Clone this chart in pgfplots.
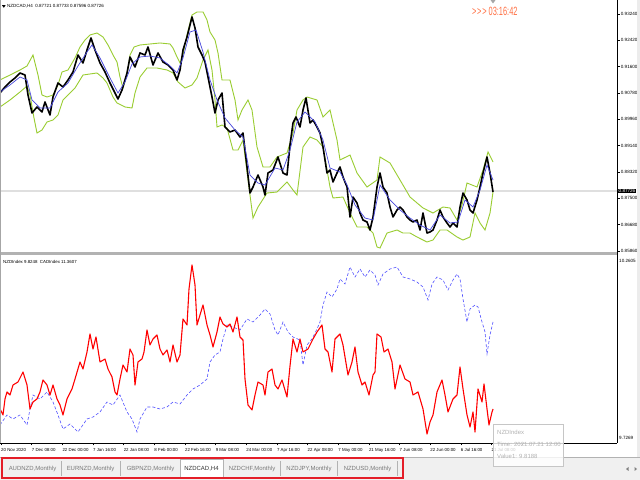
\documentclass[border=0pt]{standalone}
\usepackage{pgfplots}
\pgfplotsset{compat=1.18}
\usepackage{fontspec}
\setmainfont{Liberation Sans}
\definecolor{band}{RGB}{154,205,50}
\definecolor{ma}{RGB}{70,70,220}
\definecolor{cadblue}{RGB}{80,80,255}
\definecolor{timer}{RGB}{255,112,67}
\definecolor{tabbg}{RGB}{240,240,240}
\definecolor{tabtxt}{RGB}{120,120,120}
\definecolor{mtred}{RGB}{228,30,40}
\newcommand\sz[1]{\fontsize{#1}{#1}\selectfont}
\begin{document}
\begin{tikzpicture}[x=1bp,y=1bp]
\path[fill=white,use as bounding box] (0,0) rectangle (640,480);
% tab bar background
\fill[tabbg] (0,0) rectangle (640,23);
\draw[gray!60,line width=0.6bp] (0,23) -- (640,23);
% current price line
\draw[gray!25,line width=1.2bp] (0,289) -- (617,289);

%================ top panel =================
\begin{axis}[at={(0bp,480bp)},anchor=north west,scale only axis,
  width=617bp,height=253bp,
  xmin=0,xmax=617,ymin=0.85798,ymax=0.93676,
  axis line style={draw=none},
  xtick=\empty,
  scaled y ticks=false,
  ytick pos=right,yticklabel pos=right,
  ytick={0.93240,0.92420,0.91600,0.90780,0.89960,0.89140,0.88320,0.87500,0.86680,0.85860},
  yticklabels={0.93240,0.92420,0.91600,0.90780,0.89960,0.89140,0.88320,0.87500,0.86680,0.85860},
  tick align=outside,major tick length=2.5bp,
  tick style={black,line width=0.4bp},
  yticklabel style={font=\sz{4.6},anchor=west,inner sep=0pt,xshift=1.2bp},
  clip=true]
% upper band
\addplot[band,line width=0.9bp] coordinates {(0,0.91185)(10,0.91340)(20,0.91496)(27,0.91621)(33,0.91963)(38,0.91340)(42,0.90718)(47,0.90655)(53,0.90718)(58,0.91029)(62,0.91434)(68,0.91496)(75,0.91870)(80,0.92212)(85,0.92430)(90,0.92586)(97,0.92648)(103,0.92524)(108,0.92275)(113,0.91963)(117,0.91745)(120,0.91278)(123,0.90936)(127,0.91340)(130,0.91963)(134,0.92212)(140,0.92275)(150,0.92306)(160,0.92337)(170,0.92306)(173,0.92181)(177,0.91901)(180,0.91714)(183,0.91963)(187,0.92586)(192,0.93209)(197,0.93302)(203,0.93302)(207,0.93053)(210,0.92680)(215,0.92430)(218,0.92026)(222,0.91185)(230,0.91185)(235,0.90562)(238,0.89939)(242,0.90251)(248,0.90562)(252,0.90251)(257,0.89098)(263,0.88476)(270,0.88476)(277,0.88787)(287,0.88912)(293,0.89534)(297,0.90251)(303,0.90562)(307,0.90655)(317,0.90562)(323,0.90033)(330,0.90251)(337,0.89316)(340,0.88694)(350,0.88849)(357,0.88289)(367,0.87853)(377,0.88071)(380,0.88787)(390,0.88600)(400,0.88071)(410,0.87541)(423,0.87199)(433,0.87043)(443,0.87230)(450,0.87199)(457,0.86825)(462,0.87292)(467,0.87977)(477,0.87853)(483,0.88382)(488,0.88943)(493,0.88631)};
% lower band
\addplot[band,line width=0.9bp] coordinates {(0,0.90344)(10,0.90562)(20,0.90811)(27,0.90998)(30,0.90718)(34,0.90001)(37,0.89534)(42,0.89628)(47,0.89877)(53,0.89939)(58,0.90095)(63,0.90562)(68,0.90718)(75,0.90936)(83,0.91340)(90,0.91372)(97,0.91403)(103,0.91247)(107,0.91091)(113,0.90655)(117,0.90469)(125,0.90344)(132,0.90313)(135,0.90780)(140,0.91278)(147,0.91558)(157,0.91558)(167,0.91496)(173,0.91403)(178,0.91123)(185,0.90936)(192,0.91029)(197,0.91247)(203,0.91808)(208,0.92119)(212,0.91496)(215,0.90562)(217,0.89721)(222,0.89783)(227,0.89690)(233,0.89005)(238,0.89005)(243,0.89316)(248,0.88071)(253,0.86887)(258,0.87230)(267,0.87666)(277,0.87697)(287,0.88009)(293,0.87759)(297,0.87604)(303,0.89098)(310,0.89410)(317,0.89316)(323,0.89098)(330,0.87853)(333,0.87510)(343,0.87541)(350,0.87043)(357,0.86607)(367,0.86607)(373,0.86420)(377,0.85984)(380,0.85953)(387,0.86420)(397,0.86514)(403,0.86420)(410,0.86420)(417,0.86296)(427,0.86140)(433,0.86202)(440,0.86514)(447,0.86514)(457,0.86296)(463,0.86202)(470,0.86296)(475,0.87043)(480,0.86732)(485,0.86514)(490,0.87043)(493,0.87697)};
% price
\addplot[black,line width=1.6bp,line join=round] coordinates {(0,0.90780)(5,0.90967)(10,0.91123)(15,0.91247)(20,0.91403)(25,0.91340)(28,0.90718)(32,0.90157)(37,0.90344)(42,0.90188)(45,0.90500)(50,0.90095)(53,0.90655)(58,0.91091)(63,0.90967)(68,0.91185)(73,0.91434)(78,0.91963)(83,0.91714)(87,0.92119)(91,0.92493)(95,0.92119)(100,0.91714)(105,0.91434)(110,0.91091)(115,0.90780)(118,0.90593)(122,0.90873)(127,0.91403)(130,0.91901)(135,0.91590)(140,0.92026)(145,0.91963)(148,0.92212)(153,0.91652)(158,0.92026)(163,0.91745)(168,0.91652)(173,0.91496)(177,0.91185)(180,0.91496)(183,0.92119)(187,0.92524)(192,0.93147)(195,0.92804)(198,0.92212)(202,0.91963)(205,0.91745)(208,0.91278)(212,0.90655)(215,0.90157)(218,0.90562)(222,0.90780)(225,0.89721)(230,0.89566)(235,0.89628)(240,0.89410)(243,0.89534)(247,0.88476)(250,0.87666)(253,0.87853)(258,0.88226)(263,0.87853)(265,0.87604)(268,0.88289)(273,0.88382)(278,0.88787)(283,0.88289)(287,0.88226)(290,0.89161)(293,0.89846)(296,0.90033)(300,0.89721)(303,0.90251)(306,0.90624)(310,0.89846)(313,0.89939)(317,0.89721)(320,0.89534)(323,0.89098)(327,0.88289)(330,0.88382)(333,0.88009)(337,0.88289)(340,0.88476)(343,0.88164)(347,0.87853)(350,0.86919)(353,0.87541)(357,0.87355)(360,0.87043)(363,0.86825)(367,0.86763)(370,0.86514)(373,0.86919)(377,0.87853)(380,0.88289)(383,0.87853)(387,0.87666)(390,0.87230)(393,0.86919)(397,0.87137)(400,0.87230)(403,0.87137)(407,0.86919)(410,0.86825)(413,0.86763)(417,0.86825)(420,0.86514)(423,0.87043)(427,0.86420)(430,0.86452)(433,0.86514)(437,0.86825)(440,0.87137)(443,0.86919)(447,0.86732)(450,0.86607)(453,0.86732)(457,0.86607)(460,0.87230)(463,0.87666)(467,0.87448)(470,0.87137)(473,0.87043)(477,0.87448)(480,0.87853)(483,0.88289)(487,0.88787)(490,0.88289)(493,0.87697)};
% moving average
\addplot[ma,line width=0.7bp] coordinates {(0,0.90811)(10,0.91029)(20,0.91278)(27,0.91185)(32,0.90562)(40,0.90313)(50,0.90313)(58,0.90811)(68,0.91091)(78,0.91621)(87,0.92057)(92,0.92275)(100,0.91870)(110,0.91247)(118,0.90780)(125,0.91123)(132,0.91683)(140,0.91901)(150,0.91932)(160,0.91870)(170,0.91621)(177,0.91403)(183,0.91870)(190,0.92680)(196,0.92742)(203,0.92057)(210,0.91185)(217,0.90562)(225,0.90001)(235,0.89628)(243,0.89410)(250,0.88226)(258,0.87977)(265,0.87915)(275,0.88444)(283,0.88382)(290,0.89005)(297,0.89877)(305,0.90188)(315,0.89877)(323,0.89316)(330,0.88444)(340,0.88320)(347,0.87915)(355,0.87292)(365,0.86887)(373,0.86825)(380,0.87915)(390,0.87448)(400,0.87137)(410,0.86887)(420,0.86669)(430,0.86514)(440,0.86981)(450,0.86732)(458,0.86763)(465,0.87448)(473,0.87230)(480,0.87759)(487,0.88538)(493,0.88071)};
\end{axis}

%================ bottom panel =================
\begin{axis}[at={(0bp,225bp)},anchor=north west,scale only axis,
  width=617bp,height=188bp,
  xmin=0,xmax=617,ymin=9.7240,ymax=10.2634,
  axis line style={draw=none},
  ytick=\empty,
  xtick pos=bottom,
  xtick={1,31.65,62.3,92.95,123.6,154.25,184.9,215.55,246.2,276.85,307.5,338.15,368.8,399.45,430.1,460.75,491.4,522.05},
  xticklabels={20 Nov 2020,7 Dec 08:00,22 Dec 00:00,7 Jan 16:00,22 Jan 08:00,8 Feb 00:00,22 Feb 16:00,9 Mar 08:00,24 Mar 00:00,7 Apr 16:00,22 Apr 08:00,7 May 00:00,21 May 16:00,7 Jun 08:00,22 Jun 00:00,6 Jul 16:00,21 Jul 08:00,{}},
  tick align=outside,major tick length=2.5bp,
  tick style={black,line width=0.4bp},
  xticklabel style={font=\sz{4.4},anchor=north west,inner sep=0pt,yshift=-2.5bp},
  clip=true]
% CADIndex (blue dotted)
\addplot[cadblue,line width=0.6bp,densely dashed] coordinates {(0,9.7757)(7,9.8044)(13,9.7929)(20,9.8044)(27,9.7757)(30,9.8216)(33,9.8617)(40,9.8503)(47,9.8704)(53,9.8417)(58,9.8044)(63,9.7642)(70,9.7785)(78,9.7556)(87,9.7929)(93,9.7986)(100,9.8130)(107,9.8417)(113,9.8331)(120,9.8617)(127,9.8130)(132,9.7929)(137,9.7556)(140,9.7929)(147,9.8273)(153,9.8273)(160,9.8216)(167,9.8273)(173,9.8417)(180,9.8359)(187,9.8617)(193,9.8790)(200,9.8904)(207,9.9076)(210,9.9564)(215,9.9765)(220,9.9851)(223,10.0224)(227,10.0626)(233,10.0568)(240,10.0482)(247,10.0798)(253,10.0712)(260,10.0913)(265,10.1085)(270,10.0941)(275,10.0482)(278,10.0339)(283,10.0712)(288,10.0425)(293,10.0281)(300,10.0195)(303,9.9478)(307,10.0052)(312,10.0224)(317,10.0511)(320,10.0712)(323,10.1200)(327,10.1573)(332,10.1429)(337,10.1659)(340,10.1945)(345,10.1802)(350,10.2290)(355,10.2003)(360,10.2232)(365,10.2003)(370,10.2204)(375,10.2060)(378,10.1773)(383,10.2089)(390,10.2232)(397,10.2290)(403,10.2003)(410,10.1945)(417,10.1859)(423,10.1716)(428,10.1343)(432,10.1802)(437,10.2003)(443,10.1917)(448,10.1630)(453,10.1917)(457,10.2089)(460,10.1945)(463,10.1372)(467,10.0712)(470,10.1085)(475,10.1200)(478,10.1142)(482,10.0712)(485,10.0425)(487,9.9794)(490,10.0339)(493,10.0712)};
% NZDIndex (red)
\addplot[red,line width=1.1bp,line join=round] coordinates {(0,9.8216)(3,9.8044)(5,9.8503)(7,9.8704)(10,9.8617)(13,9.8904)(18,9.8990)(23,9.9277)(27,9.8904)(30,9.8216)(33,9.8417)(37,9.8503)(40,9.8704)(43,9.9048)(47,9.8904)(50,9.8617)(53,9.8904)(57,9.8503)(60,9.8331)(63,9.8044)(67,9.8503)(72,9.8790)(75,9.9076)(80,9.9564)(83,9.9363)(87,9.9851)(90,10.0368)(93,9.9937)(96,10.0281)(100,9.9564)(105,9.9650)(108,9.9363)(112,9.9134)(115,9.8704)(117,9.8617)(120,9.9076)(123,9.9478)(127,9.9277)(130,9.9937)(133,9.9765)(135,9.8904)(138,9.9564)(142,9.9650)(144,9.9851)(147,10.0482)(150,10.0052)(153,10.0224)(157,10.0339)(160,9.9937)(163,9.9765)(167,9.9909)(170,9.9564)(173,10.0052)(177,9.9564)(180,9.9765)(183,10.0798)(187,10.0626)(189,10.1659)(192,10.2347)(195,10.1773)(197,10.0626)(200,10.0913)(203,10.1200)(207,10.0626)(210,10.0339)(213,9.9995)(217,10.0425)(220,10.0855)(223,10.0654)(227,10.0568)(230,10.0654)(233,10.0425)(237,10.0855)(240,10.0281)(243,10.0195)(245,9.9076)(248,9.8331)(252,9.8187)(255,9.8617)(258,9.8990)(263,9.8904)(265,9.8617)(268,9.9277)(272,9.9363)(275,9.8904)(278,9.8790)(282,9.9048)(287,9.8560)(290,9.9450)(293,10.0224)(297,9.9851)(300,10.0224)(303,9.9851)(308,9.9937)(313,10.0224)(317,10.0425)(322,10.0626)(325,9.9937)(328,9.9851)(332,9.9277)(335,10.0224)(340,10.0368)(343,10.0052)(348,9.9191)(352,9.9564)(355,9.9995)(358,9.9277)(362,9.8904)(365,9.8990)(369,9.8617)(373,9.9191)(375,9.9277)(377,10.0368)(381,10.0281)(384,9.9851)(388,9.9937)(392,9.9564)(395,9.8790)(400,9.9478)(405,9.9076)(410,9.8990)(413,9.8617)(418,9.8704)(423,9.8216)(427,9.7499)(430,9.7843)(433,9.8044)(437,9.8704)(442,9.9048)(445,9.8617)(448,9.8130)(453,9.8503)(457,9.8617)(460,9.9421)(463,9.8790)(467,9.8044)(470,9.7699)(473,9.8130)(475,9.7556)(478,9.8790)(482,9.8417)(484,9.8933)(487,9.8216)(489,9.7757)(492,9.8130)(493,9.8216)};
\end{axis}

% frame lines
\fill[gray!60] (0,225) rectangle (617,227.5);
\draw[gray!70,line width=0.8bp] (0.4,480) -- (0.4,37);
\draw[black,line width=0.6bp] (617,480) -- (617,37);
\draw[black,line width=0.6bp] (0,37) -- (617,37);

% header texts
\fill[black] (2,474.8) -- (5.6,474.8) -- (3.8,472.2) -- cycle;
\node[anchor=west,inner sep=0pt,font=\sz{4.5}] at (7,474) {NZDCAD,H4\ \ 0.87721 0.87733 0.87596 0.87726};
\fill[gray!70] (490.5,480) -- (495.5,480) -- (493,476.5) -- cycle;
\node[anchor=west,inner sep=0pt,text=timer,font=\sz{12},xscale=0.62] at (472,469) {>\kern1.2bp>\kern1.2bp> 03:16:42};
\node[anchor=west,inner sep=0pt,font=\sz{4.4}] at (3,218) {NZDIndex 9.8248\ \ CADIndex 11.3607};

% price scale extras
\node[anchor=west,fill=black,text=white,inner sep=0.5bp,font=\sz{4.6}] at (618,289) {0.87726};
\node[anchor=west,inner sep=0pt,font=\sz{4.6}] at (619,219) {10.2605};
\node[anchor=west,inner sep=0pt,font=\sz{4.6}] at (619,42) {9.7269};
\fill[gray!15] (637,23.3) rectangle (640,480);

% tooltip
\draw[gray!45,fill=white,fill opacity=0.8,line width=0.6bp] (493,56) rectangle (563,14);
\node[anchor=west,inner sep=0pt,text=gray!60,font=\sz{6}] at (497,48) {NZDIndex};
\node[anchor=west,inner sep=0pt,text=gray!60,font=\sz{6}] at (497,36) {Time: 2021.07.21 12:00};
\node[anchor=west,inner sep=0pt,text=gray!60,font=\sz{6}] at (497,24) {Value1: 9.8188};

% tabs
\fill[white] (180,2) rectangle (223,21);
\draw[gray!60,line width=0.5bp] (180,2) -- (180,21) -- (223,21) -- (223,2);
\foreach \xx in {61.5,120.5,280.5,337.5,397} {\draw[gray!60,line width=0.5bp] (\xx,4) -- (\xx,19);}
\node[text=tabtxt,font=\sz{6}] at (32.5,11) {AUDNZD,Monthly};
\node[text=tabtxt,font=\sz{6}] at (90.5,11) {EURNZD,Monthly};
\node[text=tabtxt,font=\sz{6}] at (150.5,11) {GBPNZD,Monthly};
\node[text=black!80,font=\sz{6}] at (201.5,11) {NZDCAD,H4};
\node[text=tabtxt,font=\sz{6}] at (252,11) {NZDCHF,Monthly};
\node[text=tabtxt,font=\sz{6}] at (309,11) {NZDJPY,Monthly};
\node[text=tabtxt,font=\sz{6}] at (367.5,11) {NZDUSD,Monthly};
\draw[mtred,line width=2bp] (2,22) rectangle (402.5,1.5);
\fill[gray] (626,11) -- (628.5,13) -- (628.5,9) -- cycle;
\fill[gray] (637,11) -- (634.5,13) -- (634.5,9) -- cycle;
\end{tikzpicture}
\end{document}
